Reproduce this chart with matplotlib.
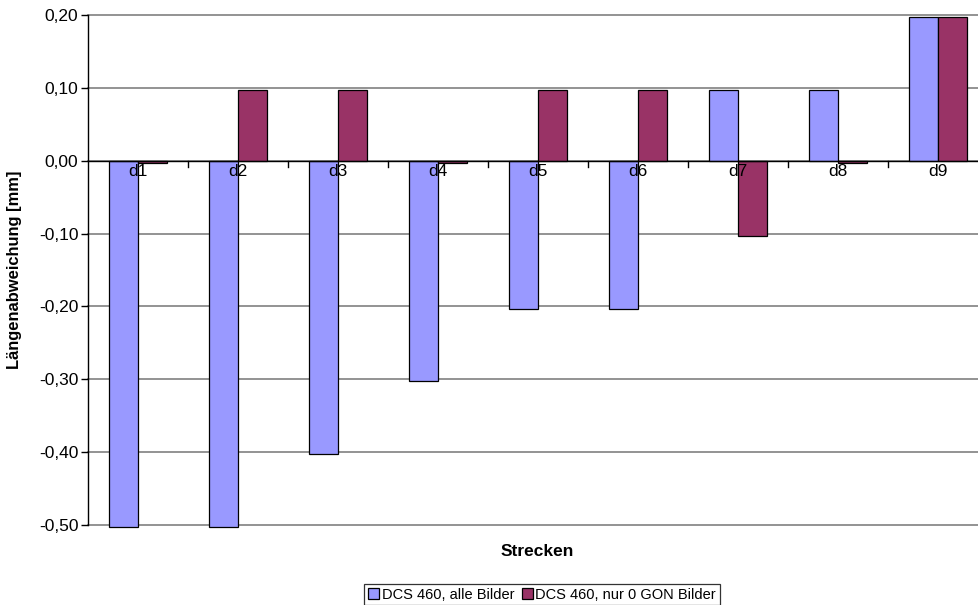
import matplotlib
matplotlib.use("Agg")
import matplotlib.pyplot as plt
import numpy as np
from matplotlib.ticker import FuncFormatter

plt.rcParams['font.family'] = ['Liberation Sans', 'DejaVu Sans']

strecken = ["d1", "d2", "d3", "d4", "d5", "d6", "d7", "d8", "d9"]
alle_bilder = [-0.503, -0.503, -0.403, -0.303, -0.203, -0.203, 0.097, 0.097, 0.197]
nur_0_gon = [-0.003, 0.097, 0.097, -0.003, 0.097, 0.097, -0.103, -0.003, 0.197]

BLUE = "#9999FF"
MAROON = "#993366"
FS = 12.5

W, H = 979, 605
fig = plt.figure(figsize=(W / 100, H / 100), dpi=100)
# plot area runs past the right edge of the figure
ax = fig.add_axes([88 / W, 1 - 525 / H, 900 / W, (525 - 15) / H])

x = np.arange(len(strecken))
w = 0.29
b1 = ax.bar(x - w / 2, alle_bilder, w, color=BLUE, edgecolor="black", linewidth=0.9,
            label="DCS 460, alle Bilder", zorder=3)
b2 = ax.bar(x + w / 2, nur_0_gon, w, color=MAROON, edgecolor="black", linewidth=0.9,
            label="DCS 460, nur 0 GON Bilder", zorder=3)
for p in list(b1) + list(b2):
    p.set_clip_on(False)

ax.set_xlim(-0.5, len(strecken) - 0.5)
ax.set_ylim(-0.5, 0.2)
ax.set_yticks(np.arange(-0.5, 0.21, 0.1))
ax.yaxis.set_major_formatter(FuncFormatter(lambda v, p: f"{v:.2f}".replace(".", ",").replace("-0,00", "0,00")))
ax.grid(axis="y", color="#808080", linewidth=1.2, zorder=0)
for gl in ax.get_ygridlines():
    gl.set_clip_on(False)
ax.set_axisbelow(True)

for s in ["top", "right", "bottom"]:
    ax.spines[s].set_visible(False)
ax.spines["left"].set_color("black")
ax.spines["left"].set_linewidth(1.0)
ax.axhline(0, color="black", linewidth=1.0, zorder=4)

# category boundaries ticked on the zero line, labels just below it
ax.set_xticks([])
for b in np.arange(0.5, len(strecken) - 0.5, 1):
    ax.plot([b, b], [0, -0.008], color="black", linewidth=1, zorder=4, clip_on=False)
for xi, name in zip(x, strecken):
    ax.text(xi, -0.005, name, ha="center", va="top", fontsize=FS, zorder=5)

ax.tick_params(axis="y", labelsize=FS, length=5, width=1, color="black", pad=2)

ax.set_ylabel("Längenabweichung [mm]", fontsize=FS * 0.95, fontweight="bold", labelpad=12)
fig.text(537 / W, 1 - 552 / H, "Strecken", ha="center", va="center",
         fontsize=FS, fontweight="bold")

leg = fig.legend(loc="upper center", bbox_to_anchor=(542 / W, 1 - 584 / H), ncol=2,
                 fontsize=10.5, frameon=True, fancybox=False, edgecolor="black",
                 handlelength=0.75, handleheight=0.75, handletextpad=0.2,
                 columnspacing=0.5, borderpad=0.25, borderaxespad=0)
leg.get_frame().set_linewidth(0.9)

fig.savefig("out.png", dpi=100)
